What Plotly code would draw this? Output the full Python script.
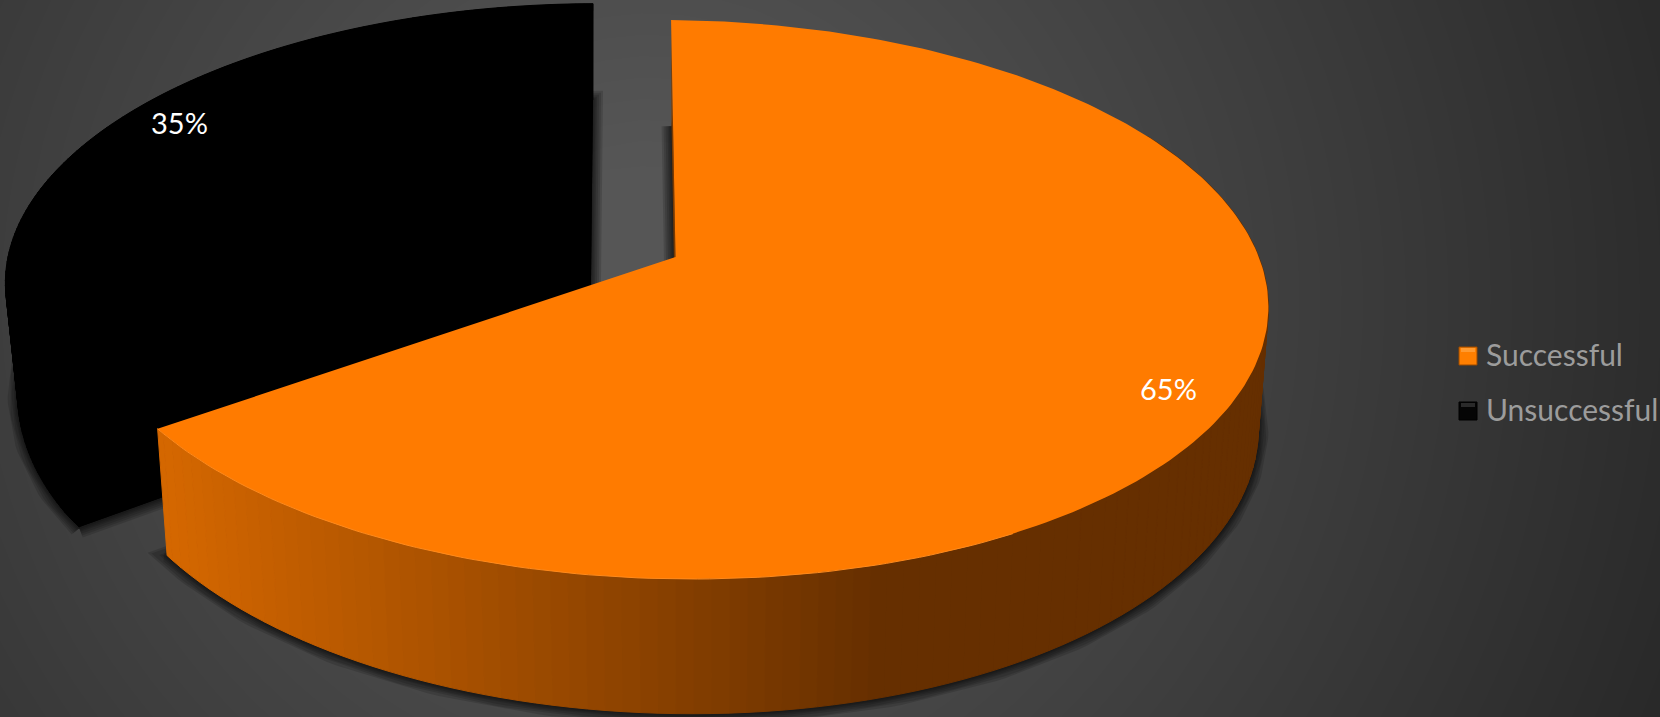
import math
import numpy as np
import plotly.graph_objects as go

# ---- data ----
categories = ["Successful", "Unsuccessful"]
values = [65, 35]
value_labels = ["65%", "35%"]

# ---- style ----
TOP_ORANGE = "#FF7B00"
BLACK = "#000000"
W, H = 1660, 717

# perspective model of the pie disc (pixel space of the axes)
CX, CY, A, B, K = 675.5, 257.0, 586.0, 273.0, 0.152
TILT = 0.013
VX, T = 700.0, 0.0175
ROT = -0.5
EXPLODE = 0.18


def project(u, v, tilt=TILT):
    d = 1 - K * v
    x, y = CX + A * u / d, CY + B * v / d
    return x, y + tilt * (x - CX)


def lower(x, y):
    return x + (VX - x) * T, y + 104 + 0.053 * y


def rim(t0, t1, ou=0.0, ov=0.0, step=1.0, tilt=TILT):
    n = max(2, int(abs(t1 - t0) / step) + 1)
    ts = np.linspace(t0, t1, n)
    return [project(ou + math.sin(math.radians(t)), ov - math.cos(math.radians(t)), tilt) for t in ts]


def low(pts):
    return [lower(*p) for p in pts]


def black_top(p):
    return p[0] + 3 + 8 * (591 - p[0]) / 594, p[1]


def black_low(p):
    x, y = lower(*p)
    dx = 1 + 5 * (590 - x) / 510 + 4 * max(0.0, (60 - x) / 50)
    return x + dx, y - 8


def closed(pts):
    return [p[0] for p in pts] + [pts[0][0]], [p[1] for p in pts] + [pts[0][1]]


def poly(pts, color, line=None, lw=0.0):
    xs, ys = closed(pts)
    return go.Scatter(x=xs, y=ys, mode="lines", fill="toself", fillcolor=color,
                      line=dict(color=line or color, width=lw), hoverinfo="skip", showlegend=False)


def mix(c0, c1, f):
    return "rgb(%d,%d,%d)" % tuple(round(a + (b - a) * f) for a, b in zip(c0, c1))


total = sum(values)
split = ROT + 360 * values[0] / total
end = ROT + 360
mid = math.radians((split + end) / 2)
ou, ov = EXPLODE * math.sin(mid), -EXPLODE * math.cos(mid)

orange_rim = rim(ROT, split)
orange_apex = project(0, 0)
black_raw = rim(split, end, ou, ov, tilt=0.0)
black_apex_raw = project(ou, ov, tilt=0.0)
black_rim = [black_top(p) for p in black_raw]
black_apex = black_top(black_apex_raw)
black_rim_low = [black_low(p) for p in black_raw]
bx, by = lower(*black_apex_raw)
black_apex_low = (bx + 6, by - 8)

fig = go.Figure()

# background glow
gx = np.linspace(0, W, 45)
gy = np.linspace(0, H, 21)
gz = [[min(86.0, 92 - 0.047 * math.hypot(x - 650, y - 300)) for x in gx] for y in gy]
fig.add_trace(go.Heatmap(x=gx, y=gy, z=gz, zmin=0, zmax=255, zsmooth="best", showscale=False,
                         colorscale=[[0, "#000000"], [1, "#ffffff"]], hoverinfo="skip"))

# soft shadows from the bottom faces
for pts in (black_rim_low + [black_apex_low], low(orange_rim + [orange_apex])):
    for lw in (20, 16, 12, 8, 5, 2):
        xs, ys = closed(pts)
        fig.add_trace(go.Scatter(x=xs, y=[y + 1 for y in ys], mode="lines",
                                 line=dict(color="rgba(0,0,0,0.14)", width=lw),
                                 hoverinfo="skip", showlegend=False))

# black slice: every face is the same flat black
fig.add_trace(poly(black_rim_low + [black_apex_low], BLACK))
for i in range(0, len(black_rim) - 1):
    fig.add_trace(poly([black_rim[i], black_rim[i + 1], black_rim_low[i + 1], black_rim_low[i]], BLACK, lw=1))
fig.add_trace(poly([black_rim[-1], black_apex, black_apex_low, black_rim_low[-1]], BLACK))
fig.add_trace(poly([black_rim[0], black_apex, black_apex_low, black_rim_low[0]], BLACK))
fig.add_trace(poly(black_rim + [black_apex], BLACK))

# orange radial wall seen at the rear edge
fig.add_trace(poly([orange_rim[0], lower(*orange_rim[0]), lower(*orange_apex), orange_apex], "#7A3A00"))

# orange outer wall, shaded across its width
left_c, right_c = (212, 103, 0), (102, 47, 0)
x_left, x_right = lower(*orange_rim[-1])[0], 880.0
for a in np.arange(60, split, 1.5):
    b = min(a + 1.5, split)
    seg = rim(a, b, step=0.5)
    xm = sum(p[0] for p in seg) / len(seg)
    f = min(1.0, max(0.0, (xm - x_left) / (x_right - x_left)))
    fig.add_trace(poly(seg + low(seg)[::-1], mix(left_c, right_c, f), lw=1))

# orange top face
fig.add_trace(poly(orange_rim + [orange_apex], TOP_ORANGE))
front = rim(150, split)
fig.add_trace(go.Scatter(x=[p[0] for p in front], y=[p[1] for p in front], mode="lines",
                         line=dict(color="#FF8A1C", width=1), hoverinfo="skip", showlegend=False))

# value labels
label_pos = [(1168, 388), (179, 122)]
annotations = []
for txt, (lx, ly) in zip(value_labels, label_pos):
    annotations.append(dict(x=lx, y=ly, text=txt, showarrow=False, xref="x", yref="y",
                            font=dict(family="Lato", size=29, color="#FFFFFF")))

# legend
legend_colors = [("#FF7F00", "#9A4A00", "#FF9A30"), ("#050505", "#000000", "#2A2A2A")]
legend_y = [356, 411]
shapes = []
for (c, edge, hi), y0 in zip(legend_colors, legend_y):
    shapes.append(dict(type="rect", xref="x", yref="y", x0=1459, x1=1477, y0=y0 - 9, y1=y0 + 9,
                       fillcolor=c, line=dict(color=edge, width=1), layer="above"))
    shapes.append(dict(type="rect", xref="x", yref="y", x0=1461, x1=1475, y0=y0 - 8, y1=y0 - 4,
                       fillcolor=hi, line=dict(width=0), layer="above"))
for cat, y0 in zip(categories, legend_y):
    annotations.append(dict(x=1484, y=y0 - 2, text=cat, showarrow=False, xref="x", yref="y", xanchor="left",
                            font=dict(family="Lato", size=30, color="#9C9C9C")))

fig.update_layout(
    width=W, height=H, margin=dict(l=0, r=0, t=0, b=0), showlegend=False,
    paper_bgcolor="#444444", plot_bgcolor="#444444",
    xaxis=dict(range=[0, W], visible=False, fixedrange=True),
    yaxis=dict(range=[H, 0], visible=False, fixedrange=True),
    annotations=annotations, shapes=shapes,
)
fig.write_html("out.html", config={"displayModeBar": False},
               post_script="document.body.style.margin='0';document.body.style.background='#444';")
